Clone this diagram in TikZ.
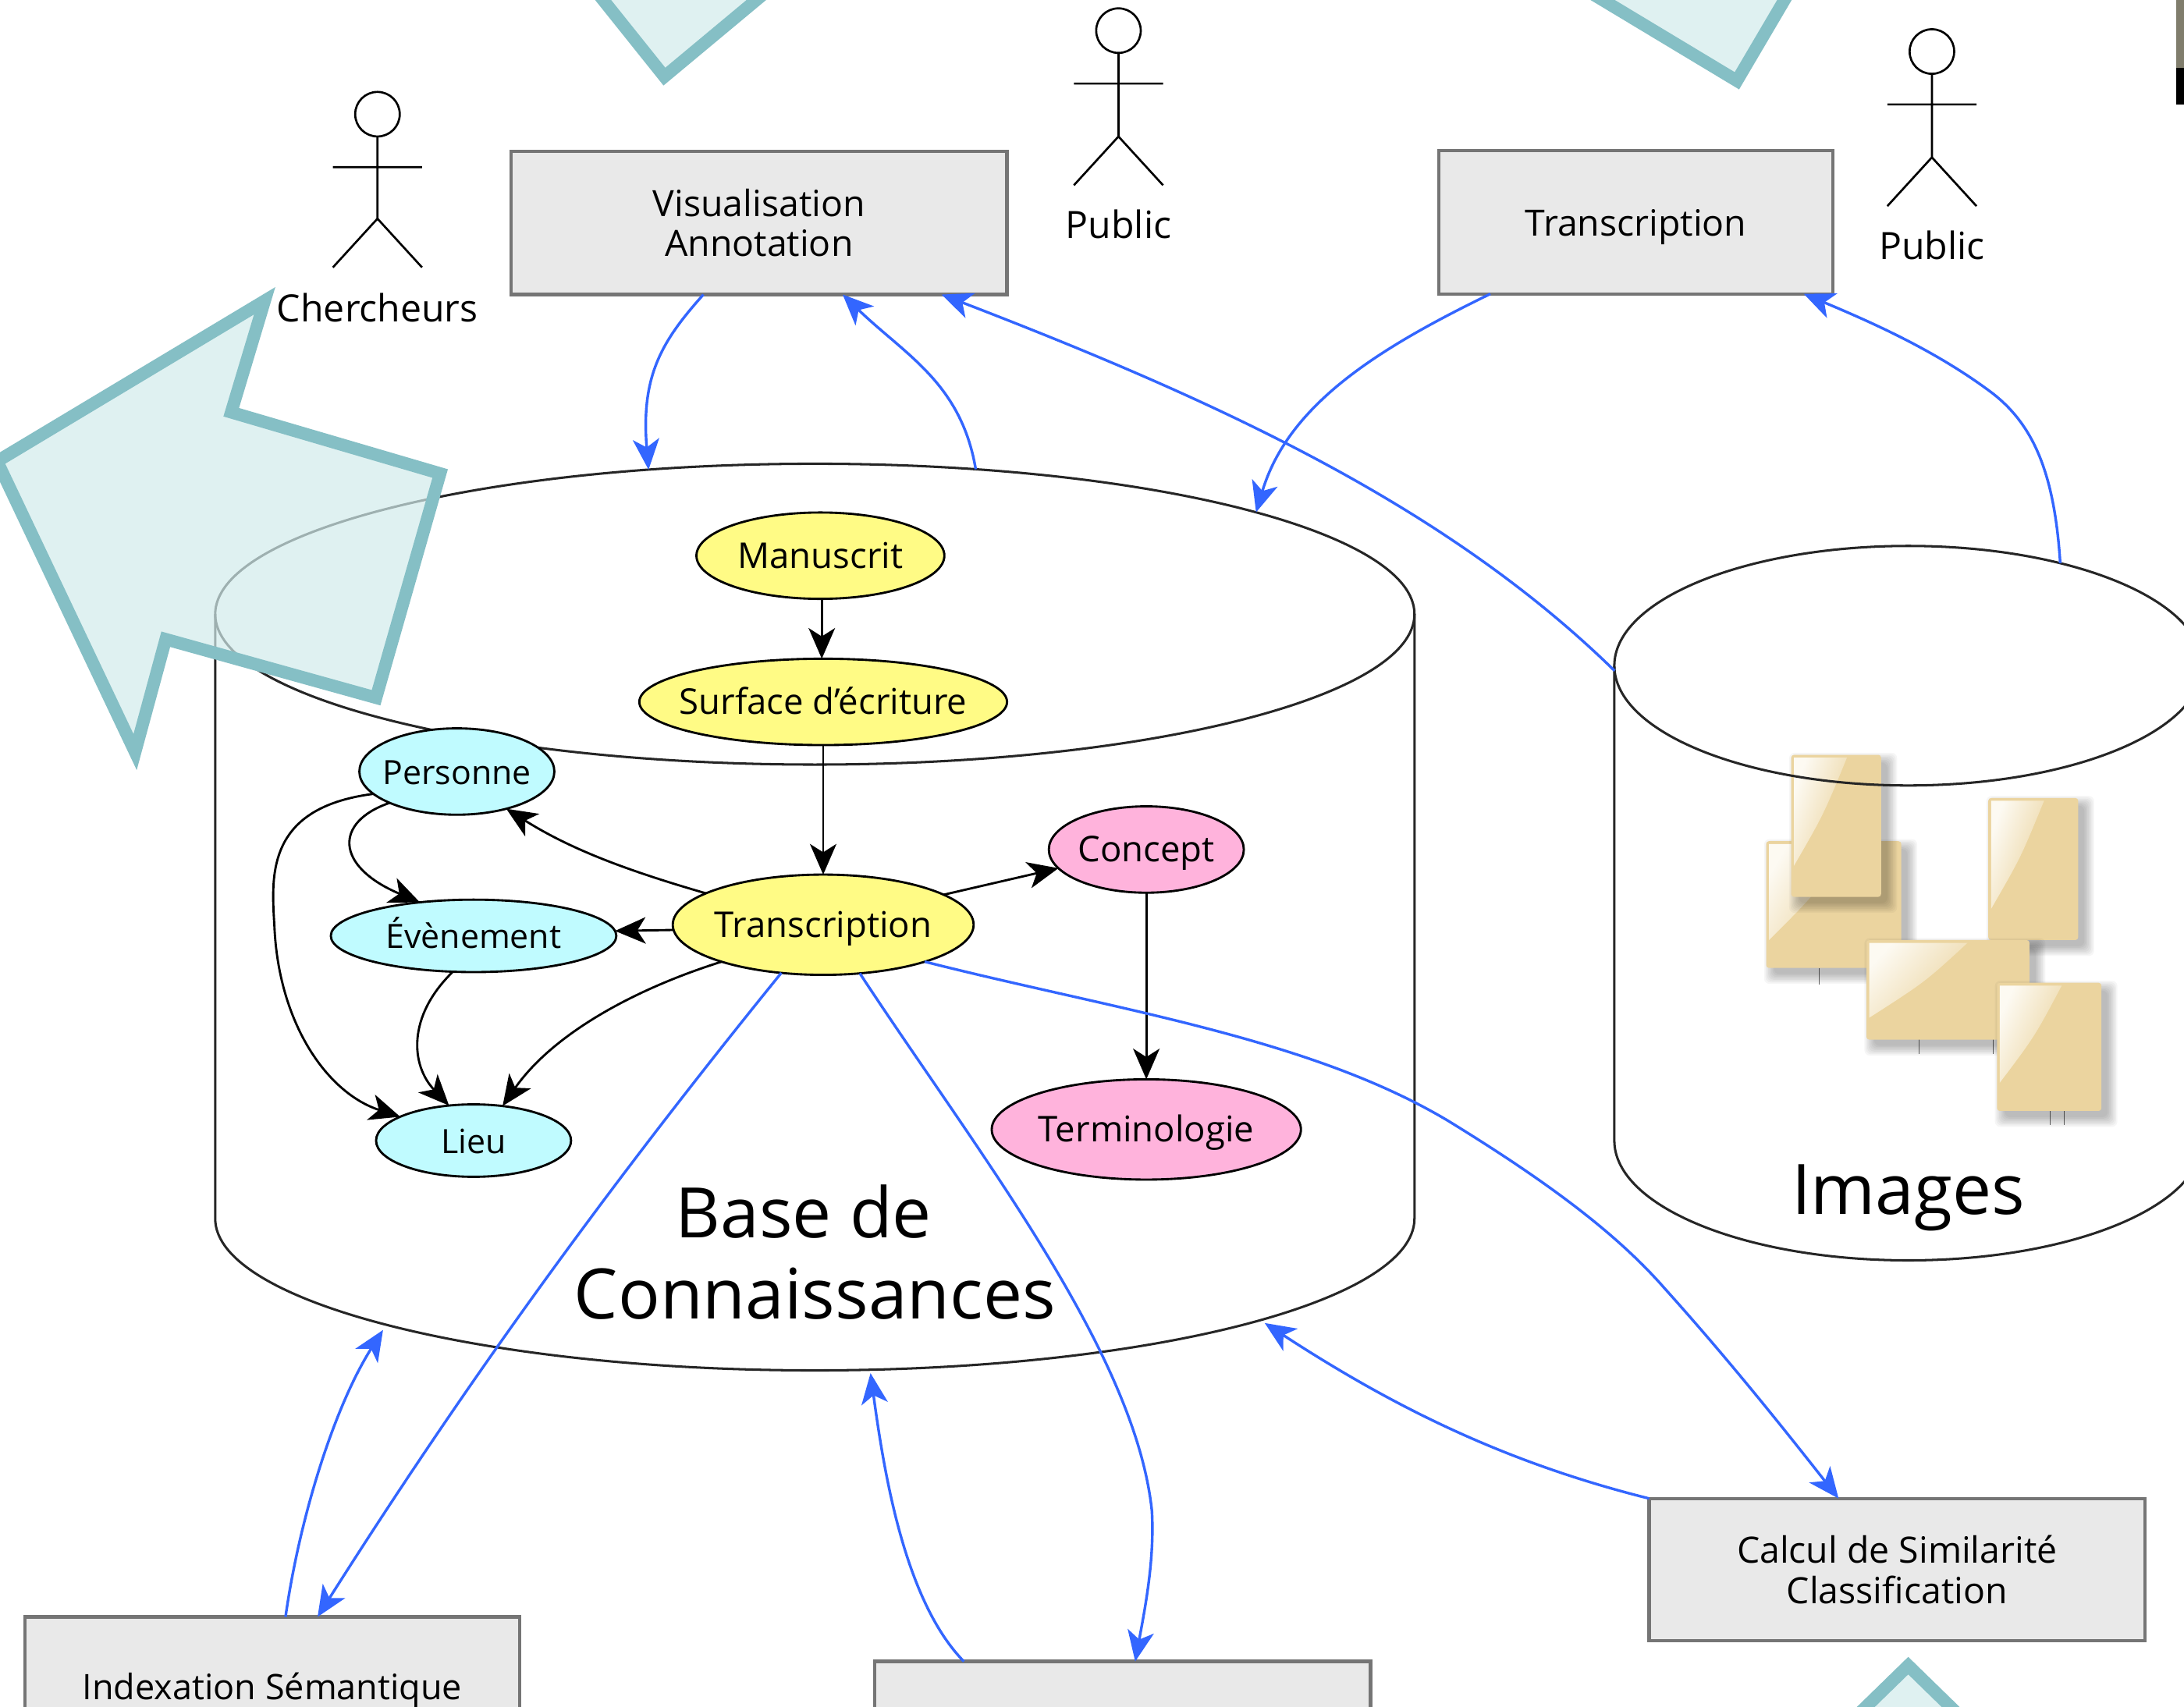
\documentclass[tikz,border=0pt]{standalone}
\usepackage{fontspec}
\setmainfont{Open Sans}
\usetikzlibrary{arrows.meta,shapes.geometric,fadings}
\definecolor{teallight}{HTML}{D2ECEC}
\definecolor{tealedge}{HTML}{85BFC5}
\definecolor{boxgray}{HTML}{E9E9E9}
\definecolor{boxedge}{HTML}{757575}
\definecolor{linkblue}{HTML}{3366FF}
\definecolor{tiletan}{HTML}{EBD49F}
\definecolor{tilelight}{HTML}{FDFAF2}
\definecolor{nodeyellow}{HTML}{FFFB85}
\definecolor{nodecyan}{HTML}{C0FBFF}
\definecolor{nodepink}{HTML}{FFB3DC}
\newcommand\fs[1]{\fontsize{#1}{29}\selectfont}
\newcommand\tw[1]{\makebox[0pt]{#1}}
\tikzset{
  boxnode/.style={draw=boxedge,fill=boxgray,line width=2.4pt,minimum width=#1,inner sep=0pt,outer sep=0pt,align=center,font=\fs{26}},
  ent/.style={draw=black,line width=1.6pt,ellipse,inner sep=0pt,outer sep=0pt,text height=24pt,text depth=6pt,font=\fs{25.5}},
  rim/.style={draw=black!85,line width=1.7pt,ellipse,inner sep=0pt,outer sep=0pt},
  blk/.style={draw=black,line width=1.6pt,-{Stealth[length=22pt,width=19pt,inset=6pt]}},
  blu/.style={draw=linkblue,line width=1.9pt,-{Stealth[length=22pt,width=19pt,inset=6pt]}},
  bigarrow/.style={fill=teallight,fill opacity=.7,draw=tealedge,draw opacity=1,line width=9pt,miter limit=10},
  actorline/.style={draw=black,line width=1.5pt},
  actorhead/.style={circle,draw=black,line width=1.5pt,minimum size=32pt,inner sep=0pt,outer sep=0pt},
  lab/.style={inner sep=0pt,font=\fs{27}},
  biglab/.style={inner sep=0pt,align=center,font=\fontsize{50}{58}\selectfont}
}
\newcommand\tile[4]{%
  \pgfmathsetmacro\xb{#1+#3}\pgfmathsetmacro\yb{#2+#4}%
  \foreach \e in {1,...,8}{%
    \fill[black,opacity=.036,rounded corners=4pt] (#1+6.5-\e*1.0,#2+6.5-\e*1.0) rectangle (\xb+3.5+\e*1.0,\yb+3.5+\e*1.0);}
  \fill[tiletan,rounded corners=2pt] (#1,#2) rectangle (\xb,\yb);
  \pgfmathsetmacro\xm{#1+#3*0.62}\pgfmathsetmacro\ym{#2+#4*0.78}%
  \pgfmathsetmacro\ca{#1+#3*0.36}\pgfmathsetmacro\cb{#2+#4*0.42}%
  \pgfmathsetmacro\xl{#1+2}\pgfmathsetmacro\yl{#2+2}%
  \fill[tilelight,path fading=east,fading angle=-35] (\xl,\yl) -- (\xm,\yl) .. controls (\ca,\cb) and (\ca,\cb) .. (\xl,\ym) -- cycle;
}
\begin{document}
\begin{tikzpicture}[x=1pt,y=-1pt]
\useasboundingbox (0,0) rectangle (1568,1225.7);
\clip (0,0) rectangle (1568,1225.7);
\fill[white] (0,0) rectangle (1568,1225.7);

% corner scrap
\fill[black!50!olive!30!gray] (1562.5,0) rectangle (1568,49);
\fill[black] (1562.5,49) rectangle (1568,75);

% image tiles
\draw[black!60,line width=.7pt] (1306,695) -- (1306,707) (1378,746) -- (1378,757) (1431,746) -- (1431,757) (1472,797) -- (1472,808) (1482,797) -- (1482,808);
\tile{1268}{604}{97}{91}
\tile{1286}{542}{64.5}{102}
\tile{1427.5}{573}{64.5}{102}
\tile{1340}{675}{117}{71.5}
\tile{1433.7}{705.7}{75}{92}

% cylinders
\node[rim,minimum width=861pt,minimum height=216pt] (kbtop) at (585,441) {};
\draw[draw=black!85,line width=1.7pt] (kbtop.west) -- (154.5,875) arc[start angle=180,end angle=360,x radius=430.5pt,y radius=109pt] -- (kbtop.east);
\node[rim,minimum width=422pt,minimum height=172pt] (imgtop) at (1370,478) {};
\draw[draw=black!85,line width=1.7pt] (imgtop.west) -- (1159,819) arc[start angle=180,end angle=360,x radius=211pt,y radius=86pt] -- (imgtop.east);
\node[biglab] (kblabel) at (585,899) {\hspace*{-16pt}Base de\\Connaissances};
\node[biglab] (imglabel) at (1370,860) {Images};

% boxes
\node[boxnode=356pt,minimum height=103pt] (vis) at (545,160) {Visualisation\\Annotation};
\node[boxnode=283pt,minimum height=103pt,text height=26pt,text depth=6pt] (trbox) at (1174.5,159.5) {Transcription};
\node[boxnode=356pt,minimum height=102pt] (calc) at (1362,1127) {Calcul de Similarité\\Classification};
\node[boxnode=355pt,minimum height=102pt,anchor=north west] (idx) at (18,1161) {};
\node[lab,font=\fs{25.2}] (idxlabel) at (195.5,1214) {Indexation Sémantique};
\node[boxnode=356pt,minimum height=102pt,anchor=north west] (bot) at (628,1193) {};

% entities
\node[ent,fill=nodeyellow,minimum width=178pt,minimum height=62pt] (manu) at (589,399) {\tw{Manuscrit}};
\node[ent,fill=nodeyellow,minimum width=264pt,minimum height=62pt] (surf) at (591,504) {\tw{Surface d'écriture}};
\node[ent,fill=nodeyellow,minimum width=216pt,minimum height=72pt] (trans) at (591,664) {\tw{Transcription}};
\node[ent,fill=nodepink,minimum width=140pt,minimum height=62pt] (conc) at (823,610) {\tw{Concept}};
\node[ent,fill=nodepink,minimum width=222pt,minimum height=72pt] (term) at (823,811) {\tw{Terminologie}};
\node[ent,fill=nodecyan,minimum width=140pt,minimum height=62pt,font=\fs{24}] (pers) at (328,554) {\tw{Personne}};
\node[ent,fill=nodecyan,minimum width=205pt,minimum height=52pt,font=\fs{24}] (even) at (340,672) {\tw{Évènement}};
\node[ent,fill=nodecyan,minimum width=140pt,minimum height=52pt,font=\fs{24}] (lieu) at (340,819) {\tw{Lieu}};

% black links
\draw[blk] ([xshift=1pt]manu.south) -- ([xshift=-1pt]surf.north);
\draw[blk] (surf.south) -- (trans.north);
\draw[blk] (trans.165) .. controls (450,625) and (410,610) .. (pers.-37);
\draw[blk] (trans.182) -- (even.2);
\draw[blk] (trans.14) -- (conc.192);
\draw[blk] (trans.200) .. controls (450,712) and (395,745) .. (lieu.50);
\draw[blk] (conc.south) -- (term.north);
\draw[blk] (pers.205.6) .. controls (240,590) and (240,622) .. (even.148);
\draw[blk] (pers.195) .. controls (190,580) and (195,630) .. (197,665) .. controls (200,735) and (235,785) .. (lieu.162);
\draw[blk] (even.240) .. controls (292,730) and (295,765) .. (lieu.125);

% blue links
\draw[blu] ([xshift=138pt]vis.south west) .. controls (475,245) and (460,270) .. (kbtop.139);
\draw[blu] (kbtop.42) .. controls (690,275) and (650,255) .. ([xshift=238pt]vis.south west);
\draw[blu] (imgtop.181) .. controls (1040,365) and (880,290) .. ([xshift=309pt]vis.south west);
\draw[blu] ([xshift=37pt]trbox.south west) .. controls (990,250) and (925,290) .. (kbtop.13.9);
\draw[blu] (imgtop.34.7) .. controls (1475,340) and (1460,305) .. (1430,282) .. controls (1390,252) and (1345,232) .. ([xshift=262pt]trbox.south west);
\draw[blu] (trans.229) .. controls (430,860) and (330,1000) .. ([xshift=210pt]idx.north west);
\draw[blu] ([xshift=187pt]idx.north west) .. controls (215,1090) and (240,1010) .. (275,955);
\draw[blu] (trans.-53) .. controls (700,825) and (815,970) .. (827,1085) .. controls (829,1120) and (822,1155) .. ([xshift=187pt]bot.north west);
\draw[blu] ([xshift=64pt]bot.north west) .. controls (650,1150) and (635,1060) .. (625,986);
\draw[blu] (trans.-20) .. controls (800,725) and (940,745) .. (1040,805) .. controls (1110,848) and (1160,885) .. (1195,925) .. controls (1240,975) and (1280,1025) .. ([xshift=136pt]calc.north west);
\draw[blu] (calc.north west) .. controls (1080,1050) and (1000,1010) .. (908,950);

% actors
\node[actorhead] (h1) at (271,82) {};
\coordinate (h1c) at (271,157); \coordinate (h1l) at (239,192); \coordinate (h1r) at (303,192); \coordinate (h1a) at (239,120); \coordinate (h1b) at (303,120);
\draw[actorline] (h1.south) -- (h1c) -- (h1l) (h1c) -- (h1r) (h1a) -- (h1b);
\node[lab] (l1) at (271,221) {Chercheurs};
\node[actorhead] (h2) at (803,22) {};
\coordinate (h2c) at (803,98); \coordinate (h2l) at (771,133); \coordinate (h2r) at (835,133); \coordinate (h2a) at (771,60); \coordinate (h2b) at (835,60);
\draw[actorline] (h2.south) -- (h2c) -- (h2l) (h2c) -- (h2r) (h2a) -- (h2b);
\node[lab] (l2) at (803,161) {Public};
\node[actorhead] (h3) at (1387,37) {};
\coordinate (h3c) at (1387,113); \coordinate (h3l) at (1355,148); \coordinate (h3r) at (1419,148); \coordinate (h3a) at (1355,75); \coordinate (h3b) at (1419,75);
\draw[actorline] (h3.south) -- (h3c) -- (h3l) (h3c) -- (h3r) (h3a) -- (h3b);
\node[lab] (l3) at (1387,176) {Public};

% teal arrows
\draw[bigarrow] (0,330) -- (190,216) -- (166,296) -- (316,340) -- (270,501) -- (119,459) -- (97,540) -- (-5,325);
\draw[bigarrow] (425,-10) -- (477,55) -- (555,-10);
\draw[bigarrow] (1134,-10) -- (1247,58) -- (1287,-10);
\draw[bigarrow] (1330,1235) -- (1370,1196) -- (1410,1235);
\end{tikzpicture}
\end{document}
